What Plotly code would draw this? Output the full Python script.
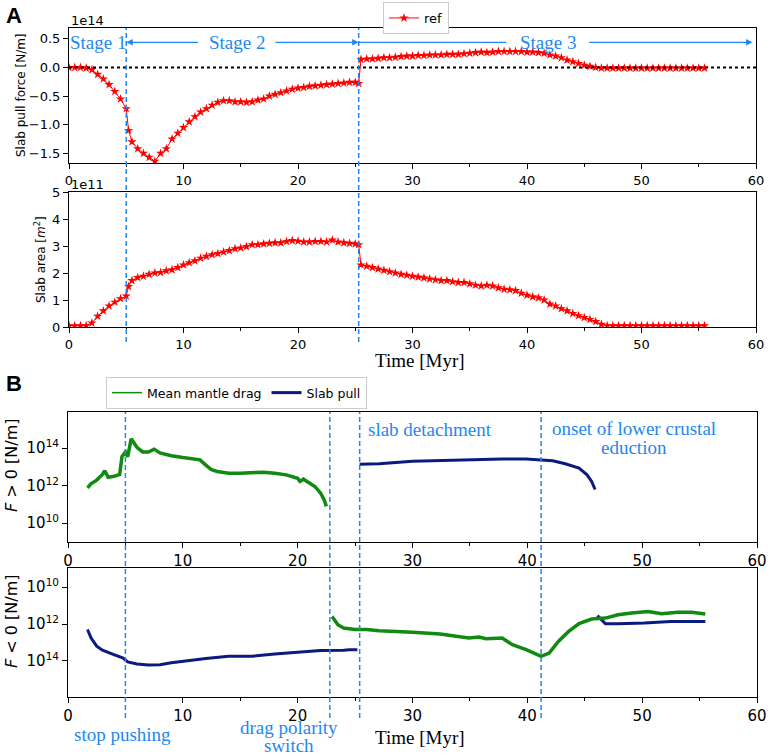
import plotly.graph_objects as go

W, H = 768, 756

def px(x):
    return x / W

def py(y):
    return 1 - y / H

# ---- panel A data (force in 1e14 N/m, area in 1e11 m^2) ----
time_a = [0.0, 0.5, 1.0, 1.5, 2.0, 2.5, 3.0, 3.5, 4.0, 4.5, 5.0, 5.2, 5.5, 6.0, 6.5, 7.0, 7.5,
          8.0, 8.5, 9.0, 9.5, 10.0, 10.5, 11.0, 11.5, 12.0, 12.5, 13.0, 13.5, 14.0, 14.5, 15.0,
          15.5, 16.0, 16.5, 17.0, 17.5, 18.0, 18.5, 19.0, 19.5, 20.0, 20.5, 21.0, 21.5, 22.0,
          22.5, 23.0, 23.5, 24.0, 24.5, 25.0, 25.3, 25.5, 26.0, 26.5, 27.0, 27.5, 28.0, 28.5,
          29.0, 29.5, 30.0, 30.5, 31.0, 31.5, 32.0, 32.5, 33.0, 33.5, 34.0, 34.5, 35.0, 35.5,
          36.0, 36.5, 37.0, 37.5, 38.0, 38.5, 39.0, 39.5, 40.0, 40.5, 41.0, 41.5, 42.0, 42.5,
          43.0, 43.5, 44.0, 44.5, 45.0, 45.5, 46.0, 46.5, 47.0, 47.5, 48.0, 48.5, 49.0, 49.5,
          50.0, 50.5, 51.0, 51.5, 52.0, 52.5, 53.0, 53.5, 54.0, 54.5, 55.0, 55.5]

slab_pull = [0.0, 0.0, 0.0, -0.01, -0.04, -0.12, -0.2, -0.3, -0.42, -0.55, -0.72, -1.1, -1.3,
             -1.42, -1.5, -1.57, -1.64, -1.5, -1.42, -1.25, -1.15, -1.05, -0.95, -0.86, -0.78,
             -0.72, -0.66, -0.61, -0.58, -0.58, -0.6, -0.6, -0.61, -0.6, -0.57, -0.55, -0.5,
             -0.47, -0.44, -0.41, -0.38, -0.36, -0.35, -0.33, -0.32, -0.31, -0.3, -0.29, -0.28,
             -0.27, -0.26, -0.26, -0.28, 0.14, 0.15, 0.15, 0.16, 0.17, 0.17, 0.18, 0.19, 0.2,
             0.2, 0.21, 0.21, 0.22, 0.22, 0.22, 0.23, 0.23, 0.23, 0.24, 0.25, 0.26, 0.27, 0.26,
             0.27, 0.28, 0.28, 0.28, 0.28, 0.28, 0.27, 0.27, 0.26, 0.25, 0.22, 0.2, 0.17, 0.13,
             0.1, 0.07, 0.04, 0.02, 0.0, -0.01, -0.01, -0.01, -0.01, -0.01, -0.01, -0.01, -0.01,
             -0.01, -0.01, -0.01, -0.01, -0.01, -0.01, -0.01, -0.01, -0.01, -0.01, -0.01, -0.01,
             -0.01]

slab_area = [0.05, 0.05, 0.05, 0.05, 0.15, 0.4, 0.6, 0.78, 0.92, 1.05, 1.15, 1.5, 1.72, 1.83,
             1.88, 1.95, 2.0, 2.02, 2.08, 2.12, 2.2, 2.3, 2.38, 2.45, 2.55, 2.62, 2.68, 2.72,
             2.78, 2.83, 2.9, 2.93, 2.98, 3.05, 3.05, 3.08, 3.1, 3.12, 3.12, 3.17, 3.2, 3.18,
             3.15, 3.15, 3.17, 3.17, 3.15, 3.22, 3.15, 3.12, 3.1, 3.08, 3.05, 2.3, 2.25, 2.2,
             2.15, 2.1, 2.05, 2.0, 1.95, 1.92, 1.88, 1.85, 1.82, 1.78, 1.75, 1.72, 1.72, 1.68,
             1.65, 1.65, 1.6, 1.55, 1.52, 1.55, 1.52, 1.45, 1.4, 1.38, 1.35, 1.25, 1.18, 1.12,
             1.08, 1.0, 0.85, 0.78, 0.68, 0.6, 0.5, 0.42, 0.35, 0.28, 0.2, 0.1, 0.05, 0.05, 0.05,
             0.05, 0.05, 0.05, 0.05, 0.05, 0.05, 0.05, 0.05, 0.05, 0.05, 0.05, 0.05, 0.05, 0.05,
             0.05, 0.05]

stage_lines = [5.0, 25.3]

# ---- panel B data (log10 of |F| in N/m) ----
drag_pos_t = [1.7, 2.0, 2.5, 3.0, 3.2, 3.5, 4.0, 4.5, 4.7, 5.0, 5.2, 5.5, 6.0, 6.5, 7.0, 7.5, 8.0,
              9.0, 10.0, 11.0, 11.5, 12.0, 12.5, 13.0, 14.0, 15.0, 16.0, 17.0, 18.0, 19.0, 20.0,
              20.2, 20.5, 21.0, 21.5, 22.0, 22.3, 22.5]
drag_pos_log = [11.88, 12.1, 12.3, 12.6, 12.8, 12.45, 12.5, 12.6, 13.55, 13.8, 13.55, 14.5,
                14.05, 13.8, 13.8, 13.95, 13.75, 13.6, 13.5, 13.43, 13.38, 13.1, 12.85, 12.76,
                12.67, 12.67, 12.7, 12.72, 12.67, 12.58, 12.4, 12.23, 12.35, 12.18, 11.96,
                11.6, 11.25, 10.9]

pull_pos_t = [25.4, 27.1, 30.0, 32.5, 34.9, 37.8, 39.9, 41.2, 42.2, 43.3, 44.5, 45.2, 45.6, 45.9]
pull_pos_log = [13.15, 13.17, 13.3, 13.34, 13.38, 13.43, 13.42, 13.38, 13.33, 13.17, 12.94,
                12.58, 12.23, 11.8]

pull_neg_t = [1.7, 2.0, 2.5, 3.0, 4.0, 4.8, 5.2, 6.0, 7.0, 7.5, 8.0, 9.0, 10.0, 12.0, 14.0,
              16.0, 18.0, 20.0, 22.0, 24.0, 24.5, 25.2,
              46.1, 46.8, 47.9, 50.2, 52.5, 55.5]
pull_neg_log = [12.3, 12.75, 13.2, 13.42, 13.66, 13.84, 14.05, 14.16, 14.22, 14.23, 14.2, 14.1,
                14.02, 13.87, 13.75, 13.75, 13.62, 13.53, 13.44, 13.42, 13.39, 13.4,
                11.55, 11.98, 11.98, 11.95, 11.86, 11.86]

drag_neg_t = [23.0, 23.5, 24.0, 25.0, 26.0, 27.1, 30.0, 32.4, 34.9, 35.8, 36.4, 37.8, 38.7,
              39.9, 41.2, 41.9, 42.7, 43.6, 44.5, 45.6, 46.8, 47.9, 49.1, 50.5, 51.7, 53.1,
              54.3, 55.5]
drag_neg_log = [11.6, 12.04, 12.22, 12.3, 12.3, 12.36, 12.45, 12.54, 12.76, 12.7, 12.8, 12.76,
                13.12, 13.39, 13.75, 13.57, 12.94, 12.4, 11.98, 11.73, 11.68, 11.5, 11.41,
                11.32, 11.44, 11.37, 11.37, 11.46]

event_lines = [5.0, 22.8, 25.4, 41.2]

BLUE = "#1E88F0"
GREEN = "#108a10"
NAVY = "#0a1a7e"
SANS = "DejaVu Sans"
SERIF = "Liberation Serif"

fig = go.Figure()

fig.add_trace(go.Scatter(x=time_a, y=slab_pull, mode="lines+markers", name="ref",
                         line=dict(color="red", width=1),
                         marker=dict(symbol="star", size=7, color="red"),
                         xaxis="x", yaxis="y", legend="legend"))
fig.add_trace(go.Scatter(x=time_a, y=slab_area, mode="lines+markers", showlegend=False,
                         line=dict(color="red", width=1),
                         marker=dict(symbol="star", size=7, color="red"),
                         xaxis="x2", yaxis="y2"))


def split(ts, vals):
    # break the line where time jumps (separate segments)
    xs, ys = [], []
    for i, (t, v) in enumerate(zip(ts, vals)):
        if i and t - ts[i - 1] > 10:
            xs.append(None)
            ys.append(None)
        xs.append(t)
        ys.append(10 ** v)
    return xs, ys


x, y = split(drag_pos_t, drag_pos_log)
fig.add_trace(go.Scatter(x=x, y=y, mode="lines", showlegend=False,
                         line=dict(color=GREEN, width=3.5), xaxis="x3", yaxis="y3"))
x, y = split(pull_pos_t, pull_pos_log)
fig.add_trace(go.Scatter(x=x, y=y, mode="lines", showlegend=False,
                         line=dict(color=NAVY, width=3), xaxis="x3", yaxis="y3"))
x, y = split(pull_neg_t, pull_neg_log)
fig.add_trace(go.Scatter(x=x, y=y, mode="lines", showlegend=False,
                         line=dict(color=NAVY, width=3), xaxis="x4", yaxis="y4"))
x, y = split(drag_neg_t, drag_neg_log)
fig.add_trace(go.Scatter(x=x, y=y, mode="lines", showlegend=False,
                         line=dict(color=GREEN, width=3.5), xaxis="x4", yaxis="y4"))

# legend entries for panel B
fig.add_trace(go.Scatter(x=[None], y=[None], mode="lines", name="Mean mantle drag",
                         line=dict(color=GREEN, width=1.5), xaxis="x3", yaxis="y3",
                         legend="legend2"))
fig.add_trace(go.Scatter(x=[None], y=[None], mode="lines", name="Slab pull",
                         line=dict(color=NAVY, width=3), xaxis="x3", yaxis="y3",
                         legend="legend2"))

ax_common = dict(showline=True, mirror=True, linecolor="black", linewidth=1,
                 ticks="outside", ticklen=5, tickcolor="black", showgrid=False,
                 zeroline=False, automargin=False)
x_common = dict(ax_common, range=[0, 60], tickvals=[0, 10, 20, 30, 40, 50, 60],
                minor=dict(ticks="outside", ticklen=3, dtick=5, tickcolor="black"))

decades = [1e10, 1e12, 1e14]
dec_text = ["10<sup>10</sup>", "10<sup>12</sup>", "10<sup>14</sup>"]

fig.update_layout(
    width=W, height=H,
    margin=dict(l=0, r=0, t=0, b=0, autoexpand=False),
    plot_bgcolor="white", paper_bgcolor="white",
    font=dict(family=SANS, color="black"),
    xaxis=dict(x_common, domain=[px(69), px(756)], anchor="y",
               tickfont=dict(size=13)),
    yaxis=dict(ax_common, domain=[py(163), py(28)], anchor="x", range=[-1.67, 0.69],
               tickvals=[-1.5, -1.0, -0.5, 0.0, 0.5],
               ticktext=["\u22121.5", "\u22121.0", "\u22120.5", "0.0", "0.5"],
               tickfont=dict(size=13)),
    xaxis2=dict(x_common, domain=[px(69), px(756)], anchor="y2",
                tickfont=dict(size=13)),
    yaxis2=dict(ax_common, domain=[py(327), py(192)], anchor="x2", range=[0, 5],
                tickvals=[0, 1, 2, 3, 4, 5], tickfont=dict(size=13)),
    xaxis3=dict(x_common, domain=[px(68), px(757)], anchor="y3",
                tickfont=dict(size=15)),
    yaxis3=dict(ax_common, domain=[py(542), py(412)], anchor="x3", type="log",
                range=[9.0, 15.93], tickvals=decades, ticktext=dec_text,
                tickfont=dict(size=15)),
    xaxis4=dict(x_common, domain=[px(68), px(757)], anchor="y4",
                tickfont=dict(size=15)),
    yaxis4=dict(ax_common, domain=[py(697), py(568)], anchor="x4", type="log",
                range=[15.95, 8.97], tickvals=decades, ticktext=dec_text,
                tickfont=dict(size=15)),
    legend=dict(x=px(383), y=py(2), xanchor="left", yanchor="top",
                bordercolor="#cccccc", borderwidth=1, font=dict(size=13),
                itemwidth=30, tracegroupgap=0),
    legend2=dict(x=px(106), y=py(377), xanchor="left", yanchor="top",
                 orientation="h", bordercolor="#cccccc", borderwidth=1,
                 font=dict(size=12.5), itemwidth=30),
)

shapes = []
# zero reference line
shapes.append(dict(type="line", xref="x", yref="y", x0=0, x1=60, y0=0, y1=0,
                   line=dict(color="black", width=2, dash="dot")))
for t in stage_lines:
    shapes.append(dict(type="line", xref="x", yref="paper", x0=t, x1=t,
                       y0=py(342), y1=py(28),
                       line=dict(color=BLUE, width=1.5, dash="5px,3px")))
for t in event_lines:
    shapes.append(dict(type="line", xref="x3", yref="paper", x0=t, x1=t,
                       y0=py(718), y1=py(412),
                       line=dict(color=BLUE, width=1.5, dash="5px,3px")))
# plain left part of the stage 3 arrow
shapes.append(dict(type="line", xref="x", yref="y", x0=25.3, x1=38.2, y0=0.44, y1=0.44,
                   line=dict(color=BLUE, width=1.3)))
fig.update_layout(shapes=shapes)

ann = []
# stage arrows (segments either side of the labels)
for head, tail in [(5.0, 11.4), (25.3, 17.9), (59.7, 45.3)]:
    ann.append(dict(x=head, y=0.44, ax=tail, ay=0.44, xref="x", yref="y", axref="x",
                    ayref="y", text="", showarrow=True, arrowhead=2, arrowsize=1,
                    arrowwidth=1.3, arrowcolor=BLUE, standoff=0))
for label, xc in [("Stage 1", 2.5), ("Stage 2", 14.7), ("Stage 3", 41.8)]:
    ann.append(dict(x=xc, y=0.44, xref="x", yref="y", text=label, showarrow=False,
                    xanchor="center", yanchor="middle",
                    font=dict(family=SERIF, size=19, color=BLUE)))


def note(txt, xp, yp, size, family=SANS, color="black", angle=0, xanchor="center"):
    ann.append(dict(x=px(xp), y=py(yp), xref="paper", yref="paper", text=txt,
                    showarrow=False, xanchor=xanchor, yanchor="middle", textangle=angle,
                    font=dict(family=family, size=size, color=color)))


# panel letters and offsets
note("<b>A</b>", 4, 15, 22, family="Liberation Sans", xanchor="left")
note("<b>B</b>", 4, 383, 22, family="Liberation Sans", xanchor="left")
note("1e14", 69, 20, 13, xanchor="left")
note("1e11", 69, 185, 13, xanchor="left")

# axis titles
note("Slab pull force [N/m]", 21, 95, 12, angle=-90)
note("Slab area [<i>m</i><sup>2</sup>]", 40, 260, 12, angle=-90)
note("<i>F</i> &gt; 0 [N/m]", 11, 466, 16, angle=-90)
note("<i>F</i> &lt; 0 [N/m]", 11, 622, 16, angle=-90)
note("Time [Myr]", 420, 361, 19, family=SERIF)
note("Time [Myr]", 420, 737, 19, family=SERIF)

# event labels
note("slab detachment", 366, 429, 19, family=SERIF, color=BLUE, xanchor="left")
note("onset of lower crustal", 634, 428, 19, family=SERIF, color=BLUE)
note("eduction", 634, 447, 19, family=SERIF, color=BLUE)
note("stop pushing", 72, 734, 19, family=SERIF, color=BLUE, xanchor="left")
note("drag polarity", 289, 727, 19, family=SERIF, color=BLUE)
note("switch", 289, 745, 19, family=SERIF, color=BLUE)

fig.update_layout(annotations=ann)

fig.write_html("out.html", config={"displayModeBar": False},
               post_script="document.body.style.margin = '0';")
